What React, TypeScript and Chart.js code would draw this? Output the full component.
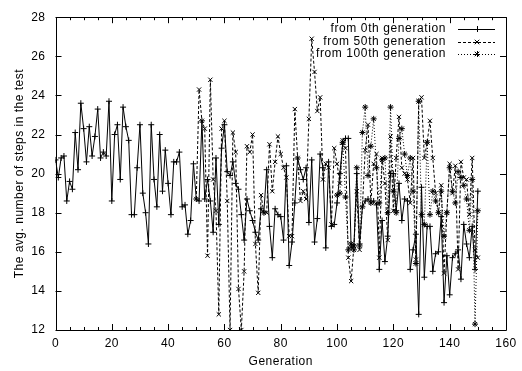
import { useEffect, useRef } from 'react';
import { Chart, registerables } from 'chart.js';

Chart.register(...registerables);

// ---- data ----
const seriesLabels = ['from 0th generation', 'from 50th generation', 'from 100th generation'];
const seriesStarts = [0, 50, 100];

const from0Values = [
  20.7, 19.8, 20.8, 20.9, 18.6, 19.6, 19.2, 22.1, 20.2, 23.6,
  22.3, 20.6, 22.4, 20.9, 21.9, 23.3, 20.8, 21.1, 20.9, 23.7,
  18.6, 22.0, 22.5, 19.7, 23.4, 22.4, 21.7, 17.9, 17.9, 20.3,
  22.5, 19.0, 18.0, 16.4, 22.5, 19.7, 18.3, 22.0, 19.1, 21.2,
  19.5, 17.9, 20.6, 20.6, 21.1, 18.3, 18.4, 16.9, 17.6, 20.5,
  18.7, 18.6, 22.7, 18.7, 19.7, 18.6, 17.0, 20.8, 17.4, 21.3,
  22.5, 20.1, 19.9, 20.6, 19.5, 19.2, 17.9, 16.6, 18.7, 18.1,
  17.6, 17.0, 16.6, 18.2, 18.0, 20.2, 17.3, 15.7, 18.2, 17.9,
  17.8, 16.6, 20.4, 15.3, 16.5, 18.5, 20.8, 20.2, 19.7, 20.3,
  17.5, 20.7, 16.5, 17.7, 21.0, 20.3, 16.2, 20.6, 17.3, 17.4,
  18.5, 20.0, 21.5, 21.8, 21.8, 16.2, 16.3, 20.0, 16.4, 18.3,
  18.6, 18.7, 18.5, 18.6, 18.4, 15.1, 17.6, 15.5, 16.8, 20.0,
  20.0, 18.1, 19.5, 17.6, 18.7, 18.6, 15.1, 16.1, 16.9, 12.8,
  19.3, 14.7, 17.3, 17.3, 15.0, 15.9, 16.0, 17.8, 13.4, 15.8,
  13.8, 15.7, 15.9, 16.1, 14.6, 17.4, 16.4, 15.7, 17.3, 15.1,
  19.1,
];

const from50Values = [
  18.7, 24.3, 22.7, 22.3, 15.8, 24.8, 19.7, 18.1, 12.8, 22.3,
  22.7, 18.6, 12.0, 22.1, 21.1, 14.1, 12.0, 15.0, 21.4, 21.1,
  22.0, 16.4, 13.9, 18.9, 18.0, 18.0, 21.5, 19.1, 20.6, 21.9,
  21.0, 20.3, 19.8, 16.8, 16.8, 23.3, 20.8, 18.6, 19.1, 18.7,
  22.8, 26.9, 25.2, 23.2, 23.9, 19.7, 20.5, 20.3, 17.4, 21.3,
  20.5, 19.5, 21.7, 21.3, 15.7, 14.5, 16.3, 19.1, 16.1, 18.3,
  21.2, 22.5, 18.5, 20.5, 21.0, 15.7, 20.8, 19.5, 16.6, 21.9,
  18.1, 20.8, 22.9, 20.3, 20.0, 19.7, 18.5, 20.8, 15.6, 23.7,
  23.9, 20.8, 21.6, 22.7, 20.8, 19.0, 18.0, 19.4, 14.9, 18.0,
  20.5, 19.0, 20.4, 15.1, 20.6, 19.8, 19.7, 17.9, 20.8, 16.1,
  15.7,
];

const from100Values = [
  18.9, 19.0, 21.6, 18.8, 16.1, 16.4, 16.1, 20.3, 16.3, 22.1,
  23.4, 19.9, 21.4, 22.8, 20.3, 18.5, 20.7, 20.8, 18.0, 23.4,
  19.1, 18.0, 21.8, 22.3, 21.0, 19.9, 20.8, 19.1, 15.4, 23.7,
  17.9, 17.4, 21.6, 17.9, 19.1, 18.6, 18.0, 19.1, 16.8, 18.0,
  20.3, 19.1, 18.5, 20.1, 19.8, 19.4, 18.7, 17.1, 19.7, 12.3,
  18.1,
];

const xMin = 0;
const xMax = 160;
const xStep = 20;
const xMinorStep = 5;
const yMin = 12;
const yMax = 28;
const yStep = 2;
const xTitle = 'Generation';
const yTitle = 'The avg. number of steps in the test';

const FONT = 'Liberation Sans';

const seriesValues = [from0Values, from50Values, from100Values];
const pointStyles = ['cross', 'crossRot', 'star'];
const dashes: number[][] = [[], [3, 2], [1, 2]];

function toPoints(values: number[], start: number) {
  return values.map((v, i) => ({ x: start + i, y: v }));
}

const framePlugin = {
  id: 'gnuplotFrame',
  beforeDraw(chart: any) {
    chart.ctx.letterSpacing = '0.5px';
  },
  beforeDatasetsDraw(chart: any) {
    const { ctx, chartArea } = chart;
    const { left, right, top, bottom } = chartArea;
    const xs = chart.scales.x;
    const ys = chart.scales.y;
    ctx.save();
    ctx.strokeStyle = '#000';
    ctx.lineWidth = 1;
    ctx.setLineDash([]);
    ctx.beginPath();
    ctx.rect(Math.round(left) + 0.5, Math.round(top) + 0.5, Math.round(right - left), Math.round(bottom - top));
    ctx.stroke();
    ctx.beginPath();
    for (let v = xMin; v <= xMax; v += xMinorStep) {
      const px = Math.round(xs.getPixelForValue(v)) + 0.5;
      const len = v % xStep === 0 ? 6 : 3;
      ctx.moveTo(px, bottom);
      ctx.lineTo(px, bottom - len);
      ctx.moveTo(px, top);
      ctx.lineTo(px, top + len);
    }
    for (let v = yMin; v <= yMax; v += yStep) {
      const py = Math.round(ys.getPixelForValue(v)) + 0.5;
      ctx.moveTo(left, py);
      ctx.lineTo(left + 6, py);
      ctx.moveTo(right, py);
      ctx.lineTo(right - 6, py);
    }
    ctx.stroke();
    ctx.restore();
  },
  afterDraw(chart: any) {
    const { ctx } = chart;
    const textRight = 446;
    const lineL = 458;
    const lineR = 495;
    const rows = [29, 41.5, 54];
    ctx.save();
    ctx.letterSpacing = '0.6px';
    ctx.font = `12px "${FONT}"`;
    ctx.fillStyle = '#000';
    ctx.textAlign = 'right';
    ctx.textBaseline = 'middle';
    chart.data.datasets.forEach((ds: any, i: number) => {
      const y = Math.round(rows[i]);
      ctx.fillText(ds.label, textRight, y);
      ctx.strokeStyle = '#000';
      ctx.lineWidth = 1;
      ctx.setLineDash(ds.borderDash || []);
      ctx.beginPath();
      ctx.moveTo(lineL, y + 0.5);
      ctx.lineTo(lineR, y + 0.5);
      ctx.stroke();
      ctx.setLineDash([]);
      const cx = Math.round((lineL + lineR) / 2);
      const r = 3;
      ctx.beginPath();
      if (ds.pointStyle === 'cross' || ds.pointStyle === 'star') {
        ctx.moveTo(cx - r, y + 0.5);
        ctx.lineTo(cx + r, y + 0.5);
        ctx.moveTo(cx + 0.5, y - r);
        ctx.lineTo(cx + 0.5, y + r);
      }
      if (ds.pointStyle === 'crossRot' || ds.pointStyle === 'star') {
        ctx.moveTo(cx - r * 0.75, y - r * 0.75);
        ctx.lineTo(cx + r * 0.75, y + r * 0.75);
        ctx.moveTo(cx - r * 0.75, y + r * 0.75);
        ctx.lineTo(cx + r * 0.75, y - r * 0.75);
      }
      ctx.stroke();
    });
    ctx.restore();
  },
};

export default function App() {
  const ref = useRef<HTMLCanvasElement>(null);
  useEffect(() => {
    if (!ref.current) return;
    const chart = new Chart(ref.current, {
      type: 'line',
      data: {
        datasets: seriesLabels.map((label, i) => ({
          label,
          data: toPoints(seriesValues[i], seriesStarts[i]),
          borderColor: '#000',
          backgroundColor: '#000',
          borderWidth: 1,
          borderDash: dashes[i],
          pointStyle: pointStyles[i] as any,
          pointRadius: 3,
          pointBorderWidth: 1,
          pointBorderColor: '#000',
          pointHoverRadius: 3,
          tension: 0,
          fill: false,
        })),
      },
      options: {
        animation: false,
        responsive: false,
        devicePixelRatio: 1,
        events: [],
        layout: { padding: { top: 16, right: 12, left: 0, bottom: 0 } },
        plugins: {
          legend: { display: false },
          tooltip: { enabled: false },
        },
        scales: {
          x: {
            type: 'linear',
            min: xMin,
            max: xMax,
            ticks: {
              stepSize: xStep,
              color: '#000',
              padding: 6,
              maxRotation: 0,
              font: { family: FONT, size: 12 },
            },
            grid: { display: false, drawTicks: false },
            border: { display: false },
            title: {
              display: true,
              text: xTitle,
              color: '#000',
              font: { family: FONT, size: 12 },
              padding: { top: 4, bottom: 2 },
            },
            afterFit(scale: any) {
              scale.height = 41;
            },
          },
          y: {
            type: 'linear',
            min: yMin,
            max: yMax,
            ticks: {
              stepSize: yStep,
              color: '#000',
              padding: 10,
              font: { family: FONT, size: 12 },
            },
            grid: { display: false, drawTicks: false },
            border: { display: false },
            title: {
              display: true,
              text: yTitle,
              color: '#000',
              font: { family: FONT, size: 12 },
              padding: { top: 12, bottom: 0 },
            },
            afterFit(scale: any) {
              scale.width = 55.5;
            },
          },
        },
      },
      plugins: [framePlugin],
    });
    return () => chart.destroy();
  }, []);
  return (
    <div style={{ position: 'fixed', left: 0, top: 0, width: 522, height: 371, background: '#fff' }}>
      <canvas ref={ref} width={522} height={371} style={{ display: 'block', width: 522, height: 371 }} />
    </div>
  );
}
